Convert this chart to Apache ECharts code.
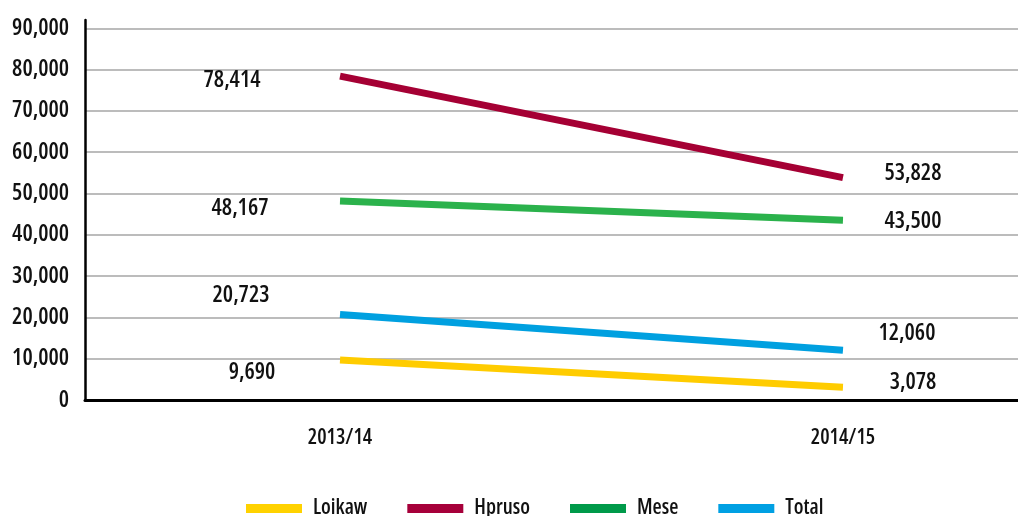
<!DOCTYPE html>
<html>
<head>
<meta charset="utf-8">
<script src="https://cdn.jsdelivr.net/npm/echarts@6/dist/echarts.min.js"></script>
<style>
html, body { margin: 0; padding: 0; background: #fff; }
#chart { width: 1018px; height: 516px; }
</style>
</head>
<body>
<div id="chart"></div>
<script>
'use strict';
// data
const years = ['2013/14', '2014/15'];
const seriesNames = ['Loikaw', 'Hpruso', 'Mese', 'Total'];
const loikaw = [9690, 3078];
const hpruso = [78414, 53828];
const mese = [48167, 43500];
const total = [20723, 12060];
const yTicks = [0, 10000, 20000, 30000, 40000, 50000, 60000, 70000, 80000, 90000];

// style
const FONT = '"Open Sans", sans-serif';
const WEIGHT = '600 condensed'; // goes into the canvas font string, picks the condensed face
const lineColors = ['#FFCC00', '#A50034', '#2BB24C', '#00A0E0'];
const legendColors = ['#FFD200', '#A6003A', '#009A4A', '#00A0E3'];
// label offset of [first point, second point] for each series
const labelOffsets = [
    [[-88, 12], [70, -5]],
    [[-108, 4], [70, -4]],
    [[-100, 7], [70, 1]],
    [[-99, -19], [64, -17]],
];

const fmt = val => Number(val).toLocaleString('en-US');

const textStyle = size => ({
    color: '#111',
    fontFamily: FONT,
    fontWeight: WEIGHT,
    fontSize: size,
});

const buildSeries = (name, values, idx) => {
    return {
        name,
        type: 'line',
        symbol: 'circle',
        symbolSize: 0,
        showSymbol: true,
        lineStyle: { color: lineColors[idx], width: 7, cap: 'butt' },
        itemStyle: { color: lineColors[idx] },
        emphasis: { disabled: true },
        data: values.map((v, i) => ({
            value: [i, v],
            label: {
                show: true,
                position: 'inside',
                offset: labelOffsets[idx][i],
                formatter: p => fmt(p.value[1]),
                ...textStyle(23),
            },
        })),
    };
};

const renderOpts = () => {
    const series = [loikaw, hpruso, mese, total].map((arr, i) => buildSeries(seriesNames[i], arr, i));
    return {
        animation: false,
        backgroundColor: '#fff',
        grid: {
            left: 85,
            right: 0,
            top: 20,
            bottom: 116,
        },
        legend: {
            left: 241,
            top: 493,
            icon: 'rect',
            itemWidth: 56,
            itemHeight: 9,
            itemGap: 40,
            selectedMode: false,
            textStyle: {
                ...textStyle(21),
                padding: [0, 0, 10, 6],
            },
            data: seriesNames.map((name, i) => ({ name, itemStyle: { color: legendColors[i] } })),
        },
        xAxis: {
            type: 'value',
            min: -0.507,
            max: 1.348,
            axisLine: { show: true, onZero: false, lineStyle: { color: '#000', width: 3 } },
            axisTick: { show: false },
            splitLine: { show: false },
            axisLabel: {
                customValues: years.map((y, i) => i),
                formatter: v => years[Math.round(v)],
                margin: 28,
                ...textStyle(21),
            },
        },
        yAxis: {
            type: 'value',
            min: 0,
            max: 92000,
            interval: 10000,
            axisLine: { show: true, onZero: false, lineStyle: { color: '#000', width: 2.5 } },
            axisTick: { show: false },
            splitLine: {
                show: true,
                showMaxLine: false,
                lineStyle: { color: '#a6a6a6', width: 1.5 },
            },
            axisLabel: {
                customValues: yTicks,
                formatter: v => fmt(v),
                margin: 16,
                ...textStyle(23),
            },
        },
        series,
    };
};

const chart = echarts.init(document.getElementById('chart'), null, { renderer: 'canvas' });
chart.setOption(renderOpts());
</script>
</body>
</html>
